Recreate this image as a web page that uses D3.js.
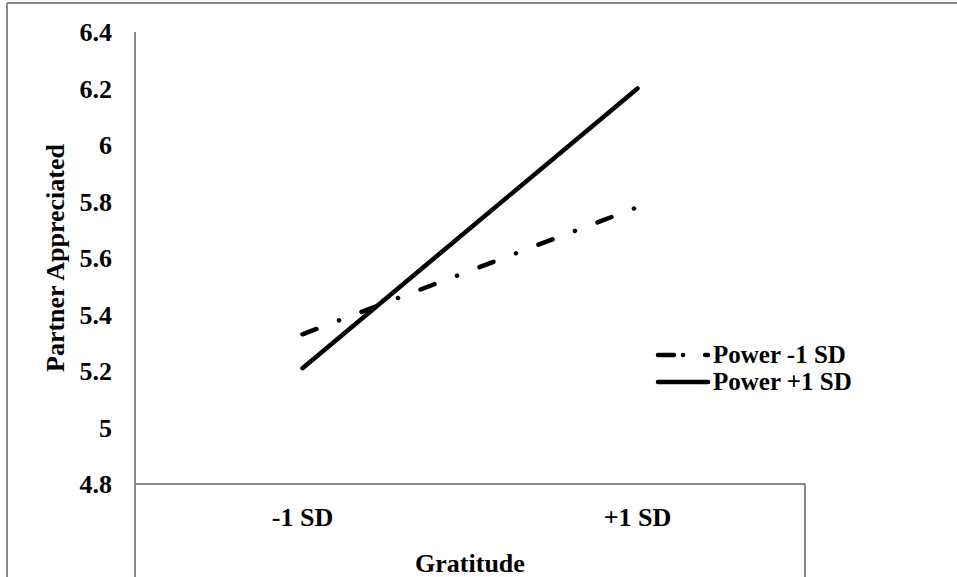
<!DOCTYPE html>
<html>
<head>
<meta charset="utf-8">
<script src="https://cdn.jsdelivr.net/npm/d3@7/dist/d3.min.js"></script>
<style>
  html, body { margin: 0; padding: 0; background: #fff; }
  svg { display: block; }
  text { font-family: "Liberation Serif", "Times New Roman", serif; font-weight: bold; fill: #000; }
</style>
</head>
<body>
<svg id="chart" width="957" height="577"></svg>
<script>
// ---- data ----
const categories = ["-1 SD", "+1 SD"];
const seriesNames = ["Power -1 SD", "Power +1 SD"];
const powerLow = [5.33, 5.78];
const powerHigh = [5.21, 6.20];
const yTicks = [4.8, 5, 5.2, 5.4, 5.6, 5.8, 6, 6.2, 6.4];
const xTitle = "Gratitude";
const yTitle = "Partner Appreciated";

(function () {
const series = [
  { name: seriesNames[0], values: powerLow, dash: "15,24,0.1,24" },
  { name: seriesNames[1], values: powerHigh, dash: null }
];

const svg = d3.select("#chart");
const W = 957, H = 577;
const mLeft = 135, mRight = 805, mTop = 32, mBottom = 484;
const axisColor = "#878787";
const fs = "26px";

// outer frame (top and left edges visible)
svg.append("line").attr("x1", 7).attr("x2", W).attr("y1", 3).attr("y2", 3)
  .attr("stroke", axisColor).attr("stroke-width", 2);
svg.append("line").attr("x1", 7).attr("x2", 7).attr("y1", 3).attr("y2", H)
  .attr("stroke", axisColor).attr("stroke-width", 2);

const x = d3.scaleBand().domain(categories).range([mLeft, mRight]);
const y = d3.scaleLinear().domain([4.8, 6.4]).range([mBottom, mTop]);

// y axis
const yAxis = svg.append("g").attr("transform", `translate(${mLeft},0)`)
  .call(d3.axisLeft(y).tickValues(yTicks).tickSize(0).tickPadding(23)
    .tickFormat(d => String(+d.toFixed(1))));
yAxis.select(".domain").remove();
yAxis.selectAll("text").style("font-size", fs)
  .style("font-family", "'Liberation Serif', serif").style("font-weight", "bold")
  .attr("dy", "0.33em");

svg.append("line").attr("x1", mLeft).attr("x2", mLeft).attr("y1", mTop).attr("y2", H)
  .attr("stroke", axisColor).attr("stroke-width", 2);

// x axis
const xAxis = svg.append("g").attr("transform", `translate(0,${mBottom})`)
  .call(d3.axisBottom(x).tickSize(0).tickPadding(0));
xAxis.select(".domain").remove();
xAxis.selectAll("text").style("font-size", fs)
  .style("font-family", "'Liberation Serif', serif").style("font-weight", "bold")
  .attr("y", 42).attr("dy", null);

svg.append("line").attr("x1", mLeft).attr("x2", mRight).attr("y1", mBottom).attr("y2", mBottom)
  .attr("stroke", axisColor).attr("stroke-width", 2);
svg.append("line").attr("x1", mRight).attr("x2", mRight).attr("y1", mBottom).attr("y2", H)
  .attr("stroke", axisColor).attr("stroke-width", 2);

// titles
svg.append("text").attr("x", (mLeft + mRight) / 2).attr("y", 572)
  .attr("text-anchor", "middle").style("font-size", fs).text(xTitle);
svg.append("text")
  .attr("transform", `translate(64,${(mTop + mBottom) / 2}) rotate(-90)`)
  .attr("text-anchor", "middle").style("font-size", fs).text(yTitle);

// lines
const line = d3.line()
  .x((d, i) => x(categories[i]) + x.bandwidth() / 2)
  .y(d => y(d));

series.forEach(s => {
  svg.append("path").datum(s.values)
    .attr("d", line)
    .attr("fill", "none")
    .attr("stroke", "#000")
    .attr("stroke-width", 4.5)
    .attr("stroke-linecap", "round")
    .attr("stroke-dasharray", s.dash);
});

// legend
const legY = [355, 382];
series.forEach((s, i) => {
  svg.append("line").attr("x1", 658).attr("x2", 708)
    .attr("y1", legY[i]).attr("y2", legY[i])
    .attr("stroke", "#000").attr("stroke-width", 4.5)
    .attr("stroke-linecap", "round")
    .attr("stroke-dasharray", s.dash ? "16,9,0.1,22" : null);
  svg.append("text").attr("x", 713).attr("y", legY[i]).attr("dy", "0.33em")
    .style("font-size", "25px").text(s.name);
});
})();
</script>
</body>
</html>
